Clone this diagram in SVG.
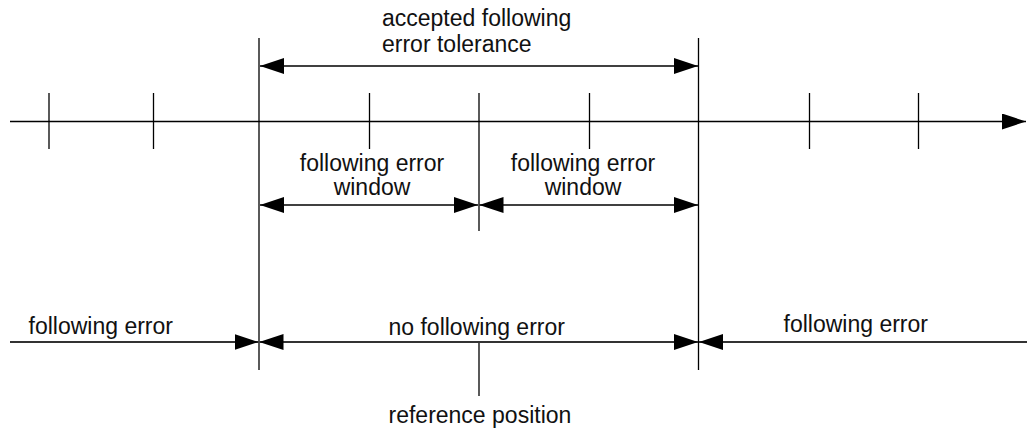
<svg xmlns="http://www.w3.org/2000/svg" width="1027" height="432" viewBox="0 0 1027 432">
  <style>
    .ln { stroke: #000; stroke-width: 1.3; fill: none; }
    .bl { stroke: #333; stroke-width: 1.8; fill: none; }
    .lbl { font-family: "Liberation Sans", Arial, sans-serif; font-size: 23px; fill: #111; }
    .mid { text-anchor: middle; }
  </style>
  <defs>
    <marker id="ah" markerUnits="userSpaceOnUse" viewBox="0 0 24 16" markerWidth="24" markerHeight="16" refX="24" refY="8" orient="auto-start-reverse">
      <path d="M0,0 L24,8 L0,16 z" fill="#000"/>
    </marker>
  </defs>
  <rect width="1027" height="432" fill="#fff"/>
  <g id="connectors">
    <!-- main axis -->
    <line class="ln" x1="10" y1="121.5" x2="1026" y2="121.5" marker-end="url(#ah)"/>
    <!-- ticks -->
    <line class="ln" x1="49" y1="93" x2="49" y2="149"/>
    <line class="ln" x1="153.5" y1="93" x2="153.5" y2="149"/>
    <line class="ln" x1="369.5" y1="93" x2="369.5" y2="149"/>
    <line class="ln" x1="589.5" y1="93" x2="589.5" y2="149"/>
    <line class="ln" x1="809.5" y1="93" x2="809.5" y2="149"/>
    <line class="ln" x1="918.5" y1="93" x2="918.5" y2="149"/>
    <!-- long verticals -->
    <line class="ln" x1="259" y1="38" x2="259" y2="370"/>
    <line class="ln" x1="698.5" y1="38" x2="698.5" y2="370"/>
    <line class="ln" x1="479" y1="93" x2="479" y2="231"/>
    <line class="ln" x1="479" y1="342" x2="479" y2="396"/>
    <!-- tolerance arrow -->
    <line class="ln" x1="260" y1="66" x2="698" y2="66" marker-start="url(#ah)" marker-end="url(#ah)"/>
    <!-- window arrows -->
    <line class="ln" x1="260" y1="205" x2="478" y2="205" marker-start="url(#ah)" marker-end="url(#ah)"/>
    <line class="ln" x1="479.5" y1="205" x2="698" y2="205" marker-start="url(#ah)" marker-end="url(#ah)"/>
    <!-- bottom line arrows -->
    <line class="bl" x1="10" y1="342" x2="258.5" y2="342" marker-end="url(#ah)"/>
    <line class="bl" x1="259.5" y1="342" x2="698" y2="342" marker-start="url(#ah)" marker-end="url(#ah)"/>
    <line class="bl" x1="699" y1="342" x2="1027" y2="342" marker-start="url(#ah)"/>
  </g>
  <g id="tolerance-label">
    <text class="lbl" x="382" y="26">accepted following</text>
    <text class="lbl" x="382" y="52">error tolerance</text>
  </g>
  <g id="window-left-label">
    <text class="lbl mid" x="372" y="171">following error</text>
    <text class="lbl mid" x="372" y="195">window</text>
  </g>
  <g id="window-right-label">
    <text class="lbl mid" x="583" y="171">following error</text>
    <text class="lbl mid" x="583" y="195">window</text>
  </g>
  <g id="following-error-left">
    <text class="lbl" x="28.5" y="333.5">following error</text>
  </g>
  <g id="no-following-error">
    <text class="lbl" x="388.5" y="335">no following error</text>
  </g>
  <g id="following-error-right">
    <text class="lbl" x="783.5" y="331.5">following error</text>
  </g>
  <g id="reference-position">
    <text class="lbl" x="388.5" y="423">reference position</text>
  </g>
</svg>
